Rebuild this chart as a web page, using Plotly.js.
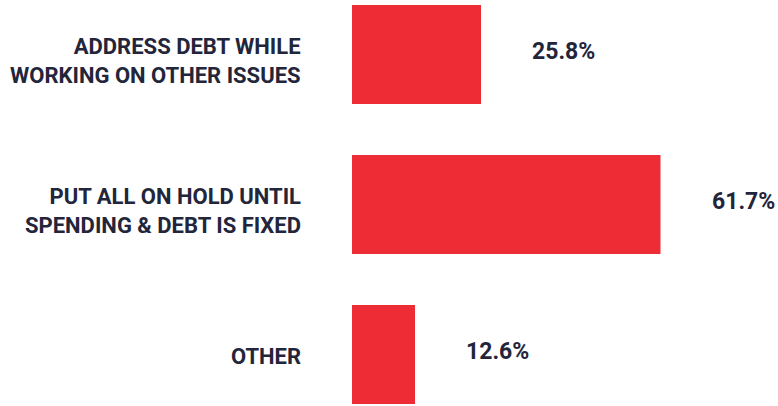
<!DOCTYPE html>
<html>
<head>
<meta charset="utf-8">
<script src="https://cdn.plot.ly/plotly-3.0.1.min.js"></script>
<style>html,body{margin:0;padding:0;background:#fff;}#chart{width:778px;height:406px;}</style>
</head>
<body>
<div id="chart"></div>
<script>
const categories = ["ADDRESS DEBT WHILE<br>WORKING ON OTHER ISSUES", "PUT ALL ON HOLD UNTIL<br>SPENDING & DEBT IS FIXED", "OTHER"];
const values = [25.8, 61.7, 12.6];
const valueLabels = ["25.8%", "61.7%", "12.6%"];

const barColor = "#EE2C35";
const textColor = "#23253B";
const fontFamily = "Roboto, 'Open Sans', sans-serif";

const trace = {
  type: "bar",
  orientation: "h",
  x: values,
  y: categories,
  width: 0.66,
  marker: {color: barColor},
  hoverinfo: "none"
};

const valueAnnotations = values.map((v, i) => ({
  x: v, y: categories[i], xref: "x", yref: "y",
  text: valueLabels[i], showarrow: false,
  xanchor: "left", xshift: 49, yshift: 3,
  font: {family: fontFamily, size: 23, color: textColor, weight: 700}
}));

const categoryAnnotations = categories.map((c) => ({
  x: 0, y: c, xref: "paper", yref: "y",
  text: c, showarrow: false,
  xanchor: "right", align: "right", xshift: -49,
  yshift: c.includes("<br>") ? -6 : -2,
  font: {family: fontFamily, size: 22, color: textColor, weight: 700}
}));

const layout = {
  width: 778, height: 406,
  margin: {l: 352, r: 0, t: 0, b: 0, pad: 0},
  paper_bgcolor: "#fff", plot_bgcolor: "#fff",
  showlegend: false,
  xaxis: {range: [0, 85.2], visible: false, fixedrange: true},
  yaxis: {
    type: "category",
    range: [2.3433, -0.3633],
    showgrid: false, zeroline: false, showline: false,
    showticklabels: false, ticks: ""
  },
  annotations: valueAnnotations.concat(categoryAnnotations)
};

Plotly.newPlot("chart", [trace], layout, {displayModeBar: false, staticPlot: true});
</script>
</body>
</html>
